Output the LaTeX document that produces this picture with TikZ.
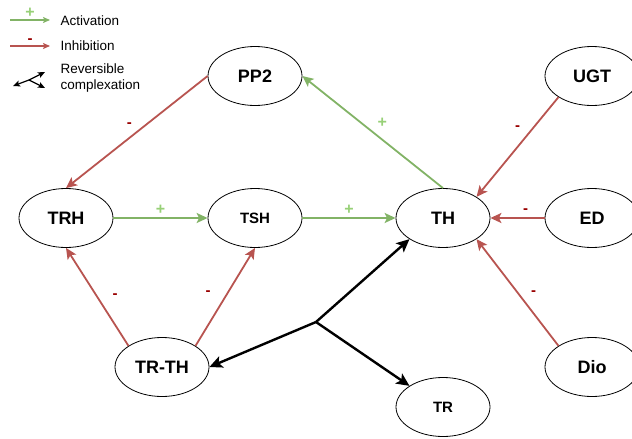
\documentclass[tikz,border=0pt]{standalone}
\usepackage{fontspec}
\setmainfont{Liberation Sans}
\usetikzlibrary{shapes.geometric,arrows.meta}
\definecolor{actgreen}{HTML}{82B366}
\definecolor{inhred}{HTML}{B85450}
\definecolor{plusgreen}{HTML}{97D077}
\definecolor{minusred}{HTML}{990000}

\begin{document}
\begin{tikzpicture}[x=1pt,y=-1pt,font=\fontsize{13.5}{16}\selectfont]
    \tikzset{
        species/.style={ellipse,draw,line width=0.8pt,minimum width=94pt,minimum height=59pt,
            inner sep=0pt,font=\fontsize{18}{20}\selectfont\bfseries},
        minorspecies/.style={species,font=\fontsize{15}{17}\selectfont\bfseries},
        activ/.style={draw=actgreen,line width=1.8pt,-{Stealth[length=11pt,width=10pt,inset=2.5pt]}},
        inhib/.style={draw=inhred,line width=1.8pt,-{Stealth[length=11pt,width=10pt,inset=2.5pt]}},
        cplx/.style={draw=black,line width=2.4pt,-{Stealth[length=13pt,width=12pt,inset=3pt]}},
        legendarrow/.style={line width=1.2pt,-{Stealth[length=7pt,width=6pt,inset=1.5pt]}},
        plussign/.style={text=plusgreen,font=\fontsize{16}{16}\selectfont\bfseries,inner sep=1pt},
        minussign/.style={text=minusred,font=\fontsize{15}{15}\selectfont\bfseries,inner sep=1pt}
    }
    \useasboundingbox (0,0) rectangle (632,439);

    % legend
    \coordinate (act0) at (10,20);
    \coordinate (act1) at (50,20);
    \coordinate (inh0) at (10,46);
    \coordinate (inh1) at (50,46);
    \coordinate (cpx) at (29,80);
    \coordinate (cpxa) at (13,86);
    \coordinate (cpxb) at (45,72);
    \coordinate (cpxc) at (45,88);
    \draw[legendarrow,draw=actgreen] (act0) -- node[plussign,above=1pt] {+} (act1);
    \draw[legendarrow,draw=inhred] (inh0) -- node[minussign,above=1pt] {-} (inh1);
    \draw[legendarrow] (cpx) -- (cpxa);
    \draw[legendarrow] (cpx) -- (cpxb);
    \draw[legendarrow] (cpx) -- (cpxc);
    \node[anchor=west] (actlab) at (57,21) {Activation};
    \node[anchor=west] (inhlab) at (57,46) {Inhibition};
    \node[anchor=west,align=left] (cpxlab) at (57,78) {Reversible\\complexation};

    % species
    \node[species] (PP2) at (255,76) {PP2};
    \node[species] (UGT) at (592,76) {UGT};
    \node[species] (TRH) at (66,218) {TRH};
    \node[minorspecies] (TSH) at (255,218) {TSH};
    \node[species] (TH) at (443,218) {TH};
    \node[species] (ED) at (592,218) {ED};
    \node[species] (TRTH) at (162,367) {TR-TH};
    \node[species] (Dio) at (592,367) {Dio};
    \node[minorspecies] (TR) at (443,407) {TR};
    \coordinate (junc) at (316,322);

    \draw[inhib] (PP2.west) -- node[minussign,above left=3pt] {-} (TRH.north);
    \draw[activ] (TH.north) -- node[plussign,above right=3pt] {+} (PP2.east);
    \draw[activ] (TRH) -- node[plussign,above=2pt] {+} (TSH);
    \draw[activ] (TSH) -- node[plussign,above=2pt] {+} (TH);
    \draw[inhib] (UGT.south west) -- node[minussign,pos=0.31,left=11pt] {-} (TH.north east);
    \draw[inhib] (ED) -- node[minussign,pos=0.35,above=3pt] {-} (TH);
    \draw[inhib] (Dio.north west) -- node[minussign,pos=0.49,right=11pt] {-} (TH.south east);
    \draw[inhib] (TRTH.north west) -- node[minussign,pos=0.51,right=14pt] {-} (TRH.south);
    \draw[inhib] (TRTH.north east) -- node[minussign,pos=0.54,left=15pt] {-} (TSH.south);
    \draw[cplx] (junc) -- (TH.south west);
    \draw[cplx] (junc) -- (TRTH.east);
    \draw[cplx] (junc) -- (TR.north west);
\end{tikzpicture}
\end{document}
